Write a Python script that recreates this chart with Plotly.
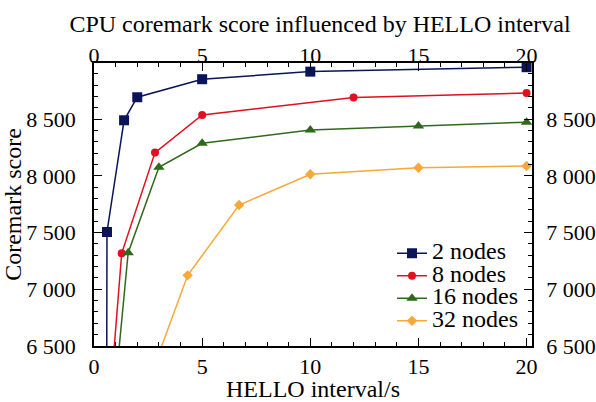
import plotly.graph_objects as go

# Data
x_2 = [0.55, 0.60, 1.39, 2.0, 5.0, 10.0, 20.0]
y_2 = [2480, 7505, 8490, 8693, 8852, 8919, 8958]
x_8 = [0.8, 1.28, 2.82, 5.0, 12.0, 20.0]
y_8 = [6164, 7317, 8205, 8537, 8690, 8731]
x_16 = [1.0, 1.58, 3.0, 5.0, 10.0, 15.0, 20.0]
y_16 = [6159, 7323, 8076, 8287, 8405, 8440, 8473]
x_32 = [2.5, 4.33, 6.71, 10.0, 15.0, 20.0]
y_32 = [6173, 7123, 7743, 8014, 8072, 8087]

series_names = ["2 nodes", "8 nodes", "16 nodes", "32 nodes"]
series_colors = ["#0b1458", "#e0101e", "#2f6a1c", "#f8a838"]
series_symbols = ["square", "circle", "triangle-up", "diamond"]
series_sizes = [10, 8, 10, 8]

x_ticks = [0, 5, 10, 15, 20]
x_ticktext = ["0", "5", "10", "15", "20"]
y_ticks = [6500, 7000, 7500, 8000, 8500]
y_ticktext = ["6 500", "7 000", "7 500", "8 000", "8 500"]

FONT = "Liberation Serif"
TICK_FONT = dict(family=FONT, size=22, color="black")

fig = go.Figure()
for xs, ys, name, c, s, sz in zip([x_2, x_8, x_16, x_32], [y_2, y_8, y_16, y_32],
                                  series_names, series_colors, series_symbols, series_sizes):
    fig.add_trace(go.Scatter(x=xs, y=ys,
                             name='<span style="font-size:24px">' + name + '</span>',
                             mode="lines+markers",
                             line=dict(color=c, width=1.5),
                             marker=dict(symbol=s, size=sz, color=c)))

# invisible trace to activate secondary axes
fig.add_trace(go.Scatter(x=[10], y=[7000], xaxis="x2", yaxis="y2", showlegend=False,
                         mode="markers", marker=dict(opacity=0), hoverinfo="skip"))

common_x = dict(range=[0, 20.25], tickvals=x_ticks, ticktext=x_ticktext, ticks="inside",
                ticklen=8, tickwidth=1.2, tickcolor="black", showgrid=False, zeroline=False,
                showline=True, linecolor="black", linewidth=1.5, automargin=False,
                minor=dict(dtick=1, ticks="inside", ticklen=4, tickwidth=1.2,
                           tickcolor="black", showgrid=False),
                tickfont=TICK_FONT)
common_y = dict(range=[6500, 8995], tickvals=y_ticks, ticktext=y_ticktext, ticks="inside",
                ticklen=8, tickwidth=1.2, tickcolor="black", showgrid=False, zeroline=False,
                showline=True, linecolor="black", linewidth=1.5, automargin=False,
                minor=dict(dtick=100, ticks="inside", ticklen=4, tickwidth=1.2,
                           tickcolor="black", showgrid=False),
                tickfont=TICK_FONT)

fig.update_layout(
    width=596, height=402,
    margin=dict(l=94, r=64, t=63, b=56, autoexpand=False),
    paper_bgcolor="white", plot_bgcolor="white",
    font=dict(family=FONT, size=22, color="black"),
    title=dict(text="CPU coremark score influenced by HELLO interval", x=320 / 596,
               xanchor="center", y=1 - 24 / 402, yanchor="middle", yref="container",
               font=dict(family=FONT, size=24, color="black")),
    xaxis=dict(**common_x, ticklabelstandoff=0,
               title=dict(text="HELLO interval/s", standoff=10,
                          font=dict(family=FONT, size=24))),
    xaxis2=dict(**common_x, overlaying="x", side="top", matches="x", ticklabelstandoff=-11),
    yaxis=dict(**common_y, ticklabelstandoff=12,
               title=dict(text="Coremark score", standoff=6,
                          font=dict(family=FONT, size=24))),
    yaxis2=dict(**common_y, overlaying="y", side="right", matches="y", ticklabelstandoff=8),
    legend=dict(x=(392 - 94) / 438, y=(346 - 237) / 283, xanchor="left", yanchor="top",
                bgcolor="rgba(0,0,0,0)", font=dict(family=FONT, size=15),
                tracegroupgap=0, itemwidth=30),
    showlegend=True,
)

fig.write_html("out.html", config={"displayModeBar": False},
               post_script="document.body.style.margin='0px';")
